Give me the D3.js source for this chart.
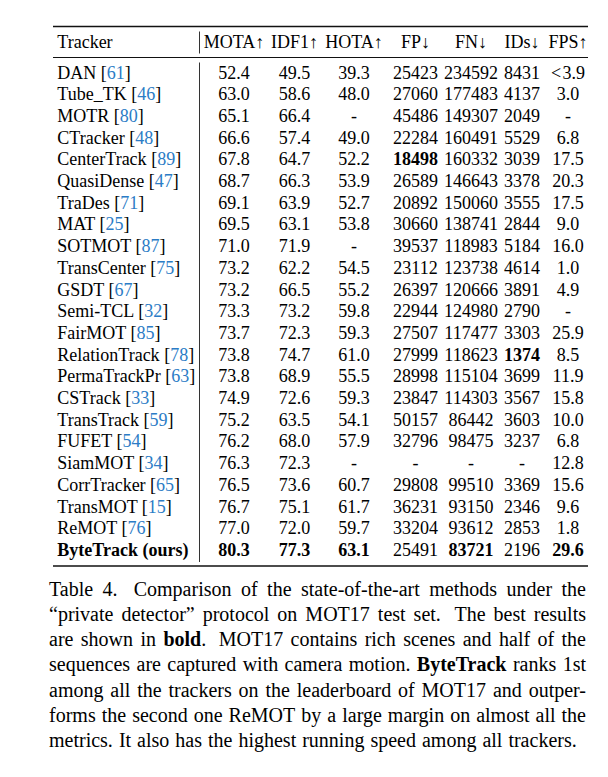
<!DOCTYPE html>
<html>
<head>
<meta charset="utf-8">
<script src="https://cdn.jsdelivr.net/npm/d3@7"></script>
<style>
  html, body { margin: 0; padding: 0; background: #fff; }
  svg { display: block; }
  text { font-family: "Liberation Serif", "Times New Roman", serif; fill: #000; }
</style>
</head>
<body>
<svg id="chart" width="608" height="777"></svg>
<script>
// ---------------- data ----------------
const trackers = ["DAN","Tube_TK","MOTR","CTracker","CenterTrack","QuasiDense","TraDes","MAT","SOTMOT","TransCenter","GSDT","Semi-TCL","FairMOT","RelationTrack","PermaTrackPr","CSTrack","TransTrack","FUFET","SiamMOT","CorrTracker","TransMOT","ReMOT","ByteTrack (ours)"];
const refs = [61,46,80,48,89,47,71,25,87,75,67,32,85,78,63,33,59,54,34,65,15,76,null];
const mota = [52.4,63.0,65.1,66.6,67.8,68.7,69.1,69.5,71.0,73.2,73.2,73.3,73.7,73.8,73.8,74.9,75.2,76.2,76.3,76.5,76.7,77.0,80.3];
const idf1 = [49.5,58.6,66.4,57.4,64.7,66.3,63.9,63.1,71.9,62.2,66.5,73.2,72.3,74.7,68.9,72.6,63.5,68.0,72.3,73.6,75.1,72.0,77.3];
const hota = [39.3,48.0,null,49.0,52.2,53.9,52.7,53.8,null,54.5,55.2,59.8,59.3,61.0,55.5,59.3,54.1,57.9,null,60.7,61.7,59.7,63.1];
const fp = [25423,27060,45486,22284,18498,26589,20892,30660,39537,23112,26397,22944,27507,27999,28998,23847,50157,32796,null,29808,36231,33204,25491];
const fn = [234592,177483,149307,160491,160332,146643,150060,138741,118983,123738,120666,124980,117477,118623,115104,114303,86442,98475,null,99510,93150,93612,83721];
const ids = [8431,4137,2049,5529,3039,3378,3555,2844,5184,4614,3891,2790,3303,1374,3699,3567,3603,3237,null,3369,2346,2853,2196];
const fps = ["<\u200A3.9",3.0,null,6.8,17.5,20.3,17.5,9.0,16.0,1.0,4.9,null,25.9,8.5,11.9,15.8,10.0,6.8,12.8,15.6,9.6,1.8,29.6];
const headerLabels = ["MOTA","IDF1","HOTA","FP","FN","IDs","FPS"];
const headerArrows = ["↑","↑","↑","↓","↓","↓","↑"];
const boldTracker = "ByteTrack (ours)";

const captionLines = [
  "Table 4.  Comparison of the state-of-the-art methods under the",
  "“private detector” protocol on MOT17 test set.  The best results",
  "are shown in *bold*.  MOT17 contains rich scenes and half of the",
  "sequences are captured with camera motion. *ByteTrack* ranks 1st",
  "among all the trackers on the leaderboard of MOT17 and outper-",
  "forms the second one ReMOT by a large margin on almost all the",
  "metrics. It also has the highest running speed among all trackers."
];

// ---------------- layout ----------------
const svg = d3.select("#chart");
const tableFont = 18, capFont = 20;
const ruleLeft = 53, ruleRight = 588;
const nameX = 57.3, barX = 199.5;
const colCenters = [234, 294.5, 354, 415.5, 471, 522, 568];
const headerY = 48;

const columns = [
  {values: mota, fmt: d3.format(".1f"), better: "max"},
  {values: idf1, fmt: d3.format(".1f"), better: "max"},
  {values: hota, fmt: d3.format(".1f"), better: "max"},
  {values: fp,   fmt: d3.format("d"),   better: "min"},
  {values: fn,   fmt: d3.format("d"),   better: "min"},
  {values: ids,  fmt: d3.format("d"),   better: "min"},
  {values: fps,  fmt: d3.format(".1f"), better: "max"}
];
columns.forEach(c => {
  const nums = c.values.filter(v => typeof v === "number");
  c.best = c.better === "max" ? d3.max(nums) : d3.min(nums);
});

const y = d3.scalePoint().domain(trackers).range([78.5, 556]);
const x = d3.scaleOrdinal().domain(headerLabels).range(colCenters);

// rules
const rules = svg.append("g").attr("stroke", "#111");
rules.append("line").attr("x1", ruleLeft).attr("x2", ruleRight).attr("y1", 26.5).attr("y2", 26.5).attr("stroke-width", 1.6);
rules.append("line").attr("x1", ruleLeft).attr("x2", ruleRight).attr("y1", 57.5).attr("y2", 57.5).attr("stroke-width", 1);
rules.append("line").attr("x1", ruleLeft).attr("x2", ruleRight).attr("y1", 566).attr("y2", 566).attr("stroke-width", 1.6);
rules.append("line").attr("x1", barX).attr("x2", barX).attr("y1", 31.5).attr("y2", 53.5).attr("stroke-width", 1).attr("stroke", "#333");
rules.append("line").attr("x1", barX).attr("x2", barX).attr("y1", 62.5).attr("y2", 562).attr("stroke-width", 1).attr("stroke", "#333");

// header
const head = svg.append("g").attr("font-size", tableFont);
head.append("text").attr("x", nameX).attr("y", headerY).text("Tracker");
head.selectAll("text.h").data(headerLabels).join("text")
  .attr("class", "h")
  .attr("x", d => x(d)).attr("y", headerY).attr("text-anchor", "middle")
  .text((d, i) => d + headerArrows[i]);

// body
const body = svg.append("g").attr("font-size", tableFont);
const names = body.selectAll("text.name").data(trackers).join("text")
  .attr("class", "name")
  .attr("x", nameX).attr("y", d => y(d))
  .attr("font-weight", d => d === boldTracker ? "bold" : null);
names.each(function(d, i) {
  const t = d3.select(this);
  t.append("tspan").text(d);
  if (refs[i] != null) {
    t.append("tspan").text(" [");
    t.append("tspan").attr("style", "fill:#2b7cc6").text(refs[i]);
    t.append("tspan").text("]");
  }
});

columns.forEach((c, ci) => {
  body.selectAll(null).data(c.values).join("text")
    .attr("x", x(headerLabels[ci]))
    .attr("y", (d, i) => y(trackers[i]))
    .attr("text-anchor", "middle")
    .attr("font-weight", d => (typeof d === "number" && d === c.best) ? "bold" : null)
    .text(d => d == null ? "-" : (typeof d === "number" ? c.fmt(d) : d));
});

// caption (justified)
const cap = svg.append("g").attr("font-size", capFont);
const capLeft = 49, capRight = 586, capTop = 596, capStep = 25.15;
captionLines.forEach((line, li) => {
  const parts = line.split(/( +)/);
  const words = [], gaps = [];
  parts.forEach((p, k) => { if (k % 2 === 0) words.push(p); else gaps.push(p.length > 1 ? 1.7 : 1); });
  const ly = capTop + li * capStep;
  const nodes = words.map(w => {
    const t = cap.append("text").attr("y", ly);
    w.split(/(\*[^*]+\*)/).filter(s => s).forEach(seg => {
      const b = seg.startsWith("*");
      t.append("tspan").attr("font-weight", b ? "bold" : null).text(b ? seg.slice(1, -1) : seg);
    });
    return t;
  });
  const widths = nodes.map(n => n.node().getComputedTextLength());
  const last = li === captionLines.length - 1;
  const unit = last ? capFont * 0.3 : (capRight - capLeft - d3.sum(widths)) / d3.sum(gaps);
  let cx = capLeft;
  nodes.forEach((n, j) => {
    n.attr("x", cx);
    cx += widths[j] + (j < gaps.length ? gaps[j] * unit : 0);
  });
});
</script>
</body>
</html>
